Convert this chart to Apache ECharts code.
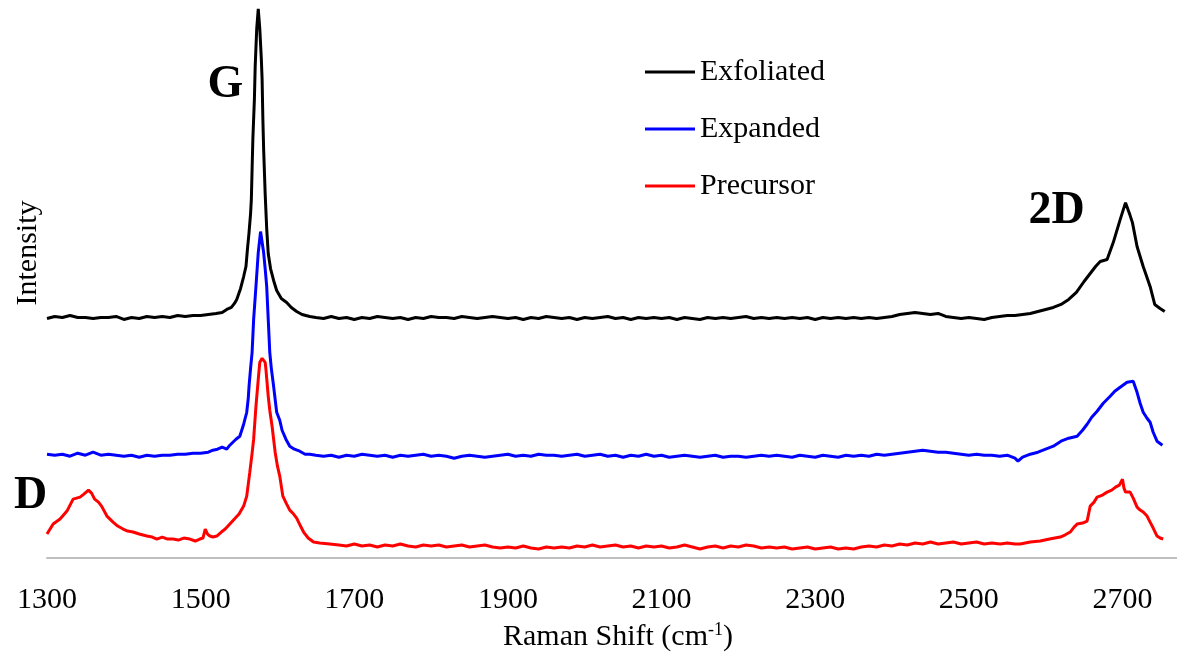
<!DOCTYPE html>
<html lang="en">
<head>
    <meta charset="utf-8">
    <title>Raman spectra</title>
    <script src="https://cdn.jsdelivr.net/npm/echarts@6/dist/echarts.min.js"></script>
    <style>
        html, body { margin: 0; padding: 0; background: #fff; }
        #main { width: 1177px; height: 657px; }
    </style>
</head>
<body>
<div id="main"></div>
<script type="text/javascript">
    // x tick labels
    const shiftTicks = [1300, 1500, 1700, 1900, 2100, 2300, 2500, 2700];
    const seriesNames = ['Exfoliated', 'Expanded', 'Precursor'];

    // [Raman shift (cm-1), intensity (a.u., offset traces)]
    const exfoliated = [
        [1300,240],[1310,242],[1320,241],[1330,243],[1340,241],[1350,241],[1360,240],[1370,241],[1380,241],[1390,242],
        [1400,239],[1410,241],[1420,240],[1430,242],[1440,241],[1450,242],[1460,241],[1470,243],[1480,242],[1490,243],
        [1500,243],[1510,244],[1520,245],[1528,246],[1534,249],[1540,251],[1544,255],[1547,259],[1552,270],[1556,282],
        [1559,292],[1561,310],[1563,326],[1565,345],[1566,359],[1567,390],[1568,420],[1570,460],[1571,492],[1573,530],
        [1575,550],[1577,530],[1579,500],[1580,480],[1581,440],[1582,410],[1584,365],[1586,330],[1588,305],[1591,290],
        [1595,278],[1599,268],[1605,260],[1612,256],[1618,251],[1625,247],[1632,244],[1642,242],
        [1650,241],[1660,240],[1670,242],[1680,240],[1690,241],[1700,239],[1710,241],[1720,240],[1730,242],[1740,241],
        [1750,240],[1760,241],[1770,239],[1780,241],[1790,240],[1800,242],[1810,241],[1820,241],[1830,240],[1840,242],
        [1850,241],[1860,240],[1870,241],[1880,242],[1890,241],[1900,240],[1910,241],[1920,239],[1930,241],[1940,240],
        [1950,242],[1960,241],[1970,240],[1980,241],[1990,239],[2000,241],[2010,240],[2020,241],[2030,242],[2040,240],
        [2050,241],[2060,239],[2070,241],[2080,240],[2090,241],[2100,240],[2110,241],[2120,239],[2130,241],[2140,240],
        [2150,239],[2160,241],[2170,240],[2180,241],[2190,240],[2200,241],[2210,242],[2220,240],[2230,241],[2240,240],
        [2250,241],[2260,240],[2270,241],[2280,240],[2290,241],[2300,239],[2310,241],[2320,240],[2330,241],[2340,240],
        [2350,241],[2360,240],[2370,241],[2380,240],[2390,241],[2400,242],[2410,244],[2420,245],[2430,246],[2440,245],
        [2450,244],[2460,245],[2470,242],[2480,241],[2490,240],[2500,241],[2510,240],[2520,239],[2530,241],[2540,242],
        [2550,243],[2560,243],[2570,244],[2580,245],[2590,247],[2600,249],[2610,251],[2620,254],[2630,259],[2640,266],
        [2650,277],[2660,287],[2665,292],[2671,297],[2680,299],[2688,316],[2697,339],[2704,356],[2710,343],[2713,336],
        [2719,312],[2727,292],[2736,272],[2742,254],[2749,250],[2755,247]
    ];

    const expanded = [
        [1300,104],[1310,103],[1320,104],[1330,102],[1340,105],[1350,103],[1360,106],[1370,103],[1380,104],[1390,103],
        [1400,102],[1410,103],[1420,101],[1430,103],[1440,102],[1450,103],[1460,103],[1470,104],[1480,104],[1490,105],
        [1500,105],[1510,106],[1516,108],[1522,109],[1528,111],[1534,109],[1538,113],[1542,116],[1546,119],[1551,122],
        [1556,134],[1558,140],[1560,146],[1562,160],[1563,172],[1565,190],[1567,206],[1569,239],[1572,272],[1575,306],
        [1578,327],[1579,329],[1580,326],[1582,306],[1584,290],[1586,272],[1588,239],[1590,206],[1592,190],[1595,172],
        [1599,146],[1603,138],[1606,128],[1611,119],[1616,112],[1622,109],[1629,107],[1636,104],[1642,104],
        [1650,103],[1660,102],[1670,103],[1680,101],[1690,103],[1700,102],[1710,104],[1720,103],[1730,102],[1740,103],
        [1750,101],[1760,103],[1770,102],[1780,103],[1790,104],[1800,102],[1810,103],[1820,102],[1830,100],[1840,102],
        [1850,103],[1860,102],[1870,101],[1880,102],[1890,103],[1900,104],[1910,102],[1920,103],[1930,102],[1940,104],
        [1950,103],[1960,103],[1970,102],[1980,103],[1990,104],[2000,102],[2010,103],[2020,104],[2030,102],[2040,103],
        [2050,101],[2060,103],[2070,102],[2080,104],[2090,102],[2100,103],[2110,101],[2120,102],[2130,103],[2140,102],
        [2150,101],[2160,102],[2170,103],[2180,101],[2190,102],[2200,102],[2210,101],[2220,102],[2230,103],[2240,102],
        [2250,103],[2260,102],[2270,101],[2280,103],[2290,102],[2300,101],[2310,103],[2320,102],[2330,101],[2340,103],
        [2350,102],[2360,103],[2370,102],[2380,104],[2390,103],[2400,104],[2410,105],[2420,106],[2430,107],[2440,108],
        [2450,107],[2460,106],[2470,106],[2480,105],[2490,104],[2500,103],[2510,104],[2520,103],[2530,103],[2540,102],
        [2550,103],[2560,100],[2564,97],[2570,101],[2580,104],[2590,106],[2600,109],[2610,112],[2620,117],[2630,120],
        [2641,122],[2648,128],[2654,134],[2660,141],[2667,147],[2675,155],[2684,162],[2690,167],[2697,171],[2706,176],
        [2714,177],[2719,166],[2723,155],[2727,146],[2732,140],[2736,136],[2740,126],[2745,117],[2752,113]
    ];

    const precursor = [
        [1300,24],[1308,34],[1317,39],[1326,47],[1334,59],[1343,61],[1348,64],[1354,68],[1358,65],[1362,59],
        [1367,56],[1371,52],[1378,42],[1386,36],[1392,32],[1399,29],[1405,27],[1412,26],[1420,24],[1430,22],
        [1437,21],[1443,19],[1450,21],[1457,19],[1464,19],[1471,18],[1478,20],[1486,19],[1493,17],[1499,19],
        [1503,20],[1506,29],[1509,24],[1512,22],[1516,21],[1521,22],[1527,26],[1532,29],[1538,34],[1544,39],
        [1550,44],[1556,52],[1560,62],[1564,86],[1567,105],[1569,119],[1572,152],[1575,179],[1577,196],[1580,200],
        [1582,202],[1584,196],[1585,189],[1588,162],[1590,148],[1593,132],[1597,106],[1600,92],[1603,82],[1607,62],
        [1612,54],[1616,48],[1621,44],[1625,40],[1630,32],[1634,26],[1640,20],[1647,16],[1655,15],[1668,14],
        [1680,13],[1690,12],[1700,14],[1710,12],[1720,13],[1730,11],[1740,13],[1750,12],[1760,14],[1770,12],
        [1780,11],[1790,13],[1800,12],[1810,13],[1820,11],[1830,12],[1840,13],[1850,11],[1860,12],[1870,13],
        [1880,11],[1890,10],[1900,11],[1910,10],[1920,12],[1930,10],[1940,9],[1950,11],[1960,10],[1970,11],
        [1980,10],[1990,12],[2000,11],[2010,13],[2020,11],[2030,12],[2040,13],[2050,11],[2060,12],[2070,10],
        [2080,12],[2090,11],[2100,12],[2110,10],[2120,11],[2130,13],[2140,11],[2150,9],[2160,11],[2170,12],
        [2180,10],[2190,12],[2200,11],[2210,13],[2220,12],[2230,10],[2240,11],[2250,10],[2260,11],[2270,9],
        [2280,10],[2290,11],[2300,9],[2310,10],[2320,11],[2330,9],[2340,10],[2350,9],[2360,11],[2370,12],
        [2380,11],[2390,13],[2400,12],[2410,14],[2420,13],[2430,15],[2440,14],[2450,16],[2460,14],[2470,15],
        [2480,16],[2490,14],[2500,15],[2510,16],[2520,14],[2530,15],[2541,14],[2550,15],[2560,14],[2567,14],
        [2580,16],[2593,17],[2605,19],[2619,21],[2625,23],[2632,26],[2637,31],[2641,34],[2648,35],[2654,37],
        [2658,52],[2663,56],[2667,61],[2674,63],[2680,66],[2686,68],[2691,71],[2696,73],[2700,79],[2702,70],
        [2704,66],[2710,66],[2714,60],[2719,51],[2723,48],[2727,46],[2732,42],[2736,36],[2740,30],[2745,22],
        [2749,20],[2753,19]
    ];

    const serif = '"Liberation Serif", "Times New Roman", serif';

    function initChart() {
        let myChart = echarts.init(document.getElementById('main'));
        const option = {
            animation: false,
            color: ['#000000', '#0000ff', '#ff0000'],
            grid: { left: 47, right: 0, top: 0, bottom: 98, containLabel: false },
            legend: {
                orient: 'vertical',
                left: 645,
                top: 57,
                padding: 0,
                itemWidth: 50,
                itemHeight: 3,
                itemGap: 27,
                icon: 'rect',
                data: seriesNames,
                textStyle: { fontFamily: serif, fontSize: 30, color: '#000' }
            },
            xAxis: {
                type: 'value',
                min: shiftTicks[0],
                max: 2771,
                interval: 200,
                name: 'Raman Shift (cm{sup|-1})',
                nameLocation: 'middle',
                nameGap: 63,
                nameTextStyle: {
                    fontFamily: serif, fontSize: 30, color: '#000',
                    padding: [0, 0, 0, 12],
                    rich: { sup: { fontFamily: serif, fontSize: 18, color: '#000', verticalAlign: 'top', padding: [0, 0, 14, 0] } }
                },
                axisLine: { lineStyle: { color: '#bfbfbf', width: 2 } },
                axisTick: { show: false },
                splitLine: { show: false },
                axisLabel: {
                    fontFamily: serif, fontSize: 30, color: '#000', margin: 27,
                    showMaxLabel: false,
                    formatter: function (v) { return String(v); }
                }
            },
            yAxis: {
                type: 'value',
                min: 0,
                max: 559,
                show: false
            },
            graphic: [
                { type: 'text', x: 28.5, y: 253, rotation: Math.PI / 2,
                  style: { text: 'Intensity', font: '30px ' + serif, fill: '#000', align: 'center', verticalAlign: 'middle' } },
                { type: 'text', x: 225.5, y: 85,
                  style: { text: 'G', font: 'bold 46px ' + serif, fill: '#000', align: 'center', verticalAlign: 'middle' } },
                { type: 'text', x: 30.5, y: 496,
                  style: { text: 'D', font: 'bold 46px ' + serif, fill: '#000', align: 'center', verticalAlign: 'middle' } },
                { type: 'text', x: 1056.5, y: 211,
                  style: { text: '2D', font: 'bold 46px ' + serif, fill: '#000', align: 'center', verticalAlign: 'middle' } }
            ],
            series: [
                { name: seriesNames[0], type: 'line', data: exfoliated, showSymbol: false, symbol: 'none',
                  lineStyle: { width: 3, color: '#000000' } },
                { name: seriesNames[1], type: 'line', data: expanded, showSymbol: false, symbol: 'none',
                  lineStyle: { width: 3, color: '#0000ff' } },
                { name: seriesNames[2], type: 'line', data: precursor, showSymbol: false, symbol: 'none',
                  lineStyle: { width: 3, color: '#ff0000' } }
            ]
        };
        myChart.setOption(option);
    }
    initChart();
</script>
</body>
</html>
